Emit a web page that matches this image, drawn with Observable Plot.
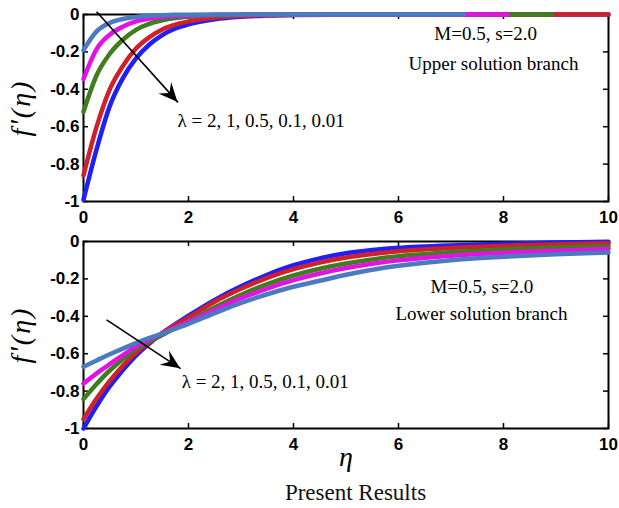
<!DOCTYPE html>
<html>
<head>
<meta charset="utf-8">
<script src="https://cdn.jsdelivr.net/npm/d3@7"></script>
<script src="https://cdn.jsdelivr.net/npm/@observablehq/plot@0.6"></script>
<style>
  html, body { margin: 0; padding: 0; background: #fff; }
  #fig { position: relative; width: 619px; height: 508px; overflow: hidden; background: #fff; }
  #upper { position: absolute; left: 0; top: 0; }
  #lower { position: absolute; left: 0; top: 228px; }
  #caption {
    position: absolute; top: 481px; left: 355.5px; transform: translateX(-50%);
    font: 23px "Liberation Serif", "Times New Roman", serif; line-height: 23px;
    white-space: nowrap; color: #111;
  }
</style>
</head>
<body>
<div id="fig">
  <div id="upper"></div>
  <div id="lower"></div>
  <div id="caption">Present Results</div>
</div>
<script>
// Suction parameter λ for each curve, listed in drawing order (bottom layer first)
const lambdas = ["0.01", "0.1", "0.5", "1", "2"];
const lineColors = ["#1f1ff7", "#d1202a", "#3f7d1f", "#e312e3", "#4a7abf"];

// Upper solution branch: f'(η) sampled at etaUpper
const etaUpper = [0, 0.25, 0.5, 0.75, 1, 1.25, 1.5, 1.75, 2, 2.5, 3, 3.5, 4, 5, 6, 7, 8, 9, 10];
const upperL001 = [-0.99, -0.72, -0.49, -0.34, -0.235, -0.162, -0.11, -0.075, -0.052, -0.025, -0.012, -0.006, -0.003, -0.001, 0, 0, 0, 0, 0];
const upperL01  = [-0.86, -0.6, -0.4, -0.275, -0.182, -0.122, -0.08, -0.054, -0.037, -0.017, -0.008, -0.004, -0.002, -0.0005, 0, 0, 0, 0, 0];
const upperL05  = [-0.52, -0.325, -0.21, -0.135, -0.082, -0.05, -0.031, -0.019, -0.012, -0.005, -0.002, -0.001, 0, 0, 0, 0, 0, 0, 0];
const upperL1   = [-0.345, -0.185, -0.108, -0.065, -0.037, -0.022, -0.013, -0.008, -0.005, -0.002, -0.001, 0, 0, 0, 0, 0, 0, 0, 0];
const upperL2   = [-0.19, -0.09, -0.045, -0.024, -0.013, -0.007, -0.004, -0.002, -0.001, 0, 0, 0, 0, 0, 0, 0, 0, 0, 0];
// Far-field edge of each upper-branch solution (η∞), where f' = 0
const upperEnd = [10, 10, 8.93, 8.08, 7.25];

// Lower solution branch: f'(η) sampled at etaLower
const etaLower = [0, 0.25, 0.5, 1, 1.5, 2, 2.5, 3, 3.5, 4, 4.5, 5, 5.5, 6, 7, 8, 9, 10];
const lowerL001 = [-1.0, -0.88, -0.775, -0.61, -0.49, -0.397, -0.312, -0.24, -0.178, -0.127, -0.09, -0.063, -0.046, -0.034, -0.021, -0.012, -0.006, -0.002];
const lowerL01  = [-0.95, -0.84, -0.745, -0.595, -0.49, -0.406, -0.322, -0.253, -0.194, -0.148, -0.113, -0.086, -0.067, -0.052, -0.035, -0.024, -0.016, -0.01];
const lowerL05  = [-0.843, -0.762, -0.69, -0.575, -0.5, -0.426, -0.352, -0.285, -0.228, -0.182, -0.146, -0.118, -0.096, -0.079, -0.058, -0.043, -0.032, -0.025];
const lowerL1   = [-0.76, -0.705, -0.656, -0.562, -0.492, -0.43, -0.365, -0.303, -0.252, -0.207, -0.171, -0.142, -0.119, -0.101, -0.076, -0.06, -0.049, -0.039];
const lowerL2   = [-0.67, -0.636, -0.603, -0.543, -0.492, -0.44, -0.383, -0.328, -0.282, -0.242, -0.21, -0.178, -0.151, -0.13, -0.1, -0.082, -0.068, -0.059];

// Axis ticks
const xTicks = [0, 2, 4, 6, 8, 10];
const yTicks = [0, -0.2, -0.4, -0.6, -0.8, -1];

// Annotation text
const lambdaText = "λ = 2, 1, 0.5, 0.1, 0.01";
const paramText = "M=0.5, s=2.0";
const upperText = "Upper solution branch";
const lowerText = "Lower solution branch";
const yLabel = "f'(η)";
const xLabel = "η";

function toRows(eta, values, lambda, end = Infinity) {
  const rows = [];
  eta.forEach((e, i) => { if (e <= end) rows.push({eta: e, f: values[i], lambda}); });
  if (end !== Infinity && rows[rows.length - 1].eta < end) rows.push({eta: end, f: 0, lambda});
  return rows;
}

const upperRows = [upperL001, upperL01, upperL05, upperL1, upperL2]
  .flatMap((v, i) => toRows(etaUpper, v, lambdas[i], upperEnd[i]));
const lowerRows = [lowerL001, lowerL01, lowerL05, lowerL1, lowerL2]
  .flatMap((v, i) => toRows(etaLower, v, lambdas[i]));

const W = 619, ML = 83, MR = 11, PH = 187, TICK = 5;
const PW = W - ML - MR;
const serif = "Liberation Serif";

function panel({rows, curve, height, marginTop, marginBottom, arrow, lambdaPos, notes, showXLabel}) {
  const marks = [
    Plot.frame({stroke: "black", strokeWidth: 2}),
    // inward ticks on all four sides
    Plot.tickY(yTicks, {y: d => d, insetRight: PW - TICK, stroke: "black", strokeWidth: 1.5}),
    Plot.tickY(yTicks, {y: d => d, insetLeft: PW - TICK, stroke: "black", strokeWidth: 1.5}),
    Plot.tickX(xTicks, {x: d => d, insetTop: PH - TICK, stroke: "black", strokeWidth: 1.5}),
    Plot.tickX(xTicks, {x: d => d, insetBottom: PH - TICK, stroke: "black", strokeWidth: 1.5}),
    Plot.axisY({ticks: yTicks, tickSize: 0, tickPadding: 4, tickFormat: d => String(d), label: null}),
    Plot.axisX({ticks: xTicks, tickSize: 0, tickPadding: 9, tickFormat: d => String(d), label: null}),
    Plot.line(rows, {x: "eta", y: "f", z: "lambda", stroke: "lambda", strokeWidth: 4.5, curve}),
    Plot.link([arrow], {x1: "x1", y1: "y1", x2: "x2", y2: "y2", stroke: "black", strokeWidth: 1.6}),
    Plot.text([lambdaPos], {x: "x", y: "y", text: () => lambdaText, textAnchor: "start", lineAnchor: "bottom",
      fontFamily: serif, fontSize: 19, fontWeight: "normal", fill: "black"}),
    Plot.text(notes, {x: "x", y: "y", text: "t", textAnchor: "middle", lineAnchor: "bottom",
      fontFamily: serif, fontSize: 19, fontWeight: "normal", fill: "black"}),
    Plot.text([yLabel], {text: d => d, frameAnchor: "left", dx: -62, rotate: -90, textAnchor: "middle", lineAnchor: "middle",
      fontFamily: serif, fontStyle: "italic", fontSize: 28, fontWeight: "normal", fill: "black"})
  ];
  if (showXLabel) {
    marks.push(Plot.text([{x: 5}], {x: "x", text: () => xLabel, frameAnchor: "bottom", dy: 37, lineAnchor: "bottom",
      fontFamily: serif, fontStyle: "italic", fontSize: 28, fontWeight: "normal", fill: "black"}));
  }
  const plot = Plot.plot({
    width: W, height, marginLeft: ML, marginRight: MR, marginTop, marginBottom,
    x: {domain: [0, 10], label: null},
    y: {domain: [-1, 0], label: null},
    color: {domain: lambdas, range: lineColors},
    style: {background: "transparent", fontFamily: "Liberation Sans", fontSize: "17px", fontWeight: "bold", color: "black", overflow: "visible"},
    marks
  });

  // y label: f, a slanted prime, then (η), spaced out like a math label
  d3.select(plot).selectAll("text")
    .filter(function() { return this.textContent === yLabel; })
    .each(function() {
      const t = d3.select(this).text(null);
      t.append("tspan").text("f");
      t.append("tspan").attr("dx", 2).attr("font-size", "30px").text("'");
      t.append("tspan").attr("dx", 2).attr("letter-spacing", "2px").text("(η)");
    });

  // filled arrowhead at the end of the λ arrow
  const sx = plot.scale("x"), sy = plot.scale("y");
  const p1 = [sx.apply(arrow.x1), sy.apply(arrow.y1)];
  const p2 = [sx.apply(arrow.x2), sy.apply(arrow.y2)];
  const len = Math.hypot(p2[0] - p1[0], p2[1] - p1[1]);
  const u = [(p2[0] - p1[0]) / len, (p2[1] - p1[1]) / len];
  const n = [-u[1], u[0]];
  const L = 19, H = 8.5, notch = 12;
  const pts = [
    p2,
    [p2[0] - L * u[0] + H * n[0], p2[1] - L * u[1] + H * n[1]],
    [p2[0] - notch * u[0], p2[1] - notch * u[1]],
    [p2[0] - L * u[0] - H * n[0], p2[1] - L * u[1] - H * n[1]]
  ];
  d3.select(plot).append("path")
    .attr("d", "M" + pts.map(p => p.join(",")).join("L") + "Z")
    .attr("fill", "black");
  return plot;
}

document.getElementById("upper").append(panel({
  rows: upperRows, curve: "monotone-x", height: 228, marginTop: 14, marginBottom: 27,
  arrow: {x1: 0.25, y1: 0.015, x2: 1.8, y2: -0.47},
  lambdaPos: {x: 1.79, y: -0.603},
  notes: [{x: 7.66, y: -0.135, t: paramText}, {x: 7.81, y: -0.295, t: upperText}],
  showXLabel: false
}));

document.getElementById("lower").append(panel({
  rows: lowerRows, curve: "catmull-rom", height: 250, marginTop: 13, marginBottom: 50,
  arrow: {x1: 0.44, y1: -0.419, x2: 1.85, y2: -0.68},
  lambdaPos: {x: 1.87, y: -0.781},
  notes: [{x: 7.59, y: -0.273, t: paramText}, {x: 7.58, y: -0.419, t: lowerText}],
  showXLabel: true
}));
</script>
</body>
</html>
